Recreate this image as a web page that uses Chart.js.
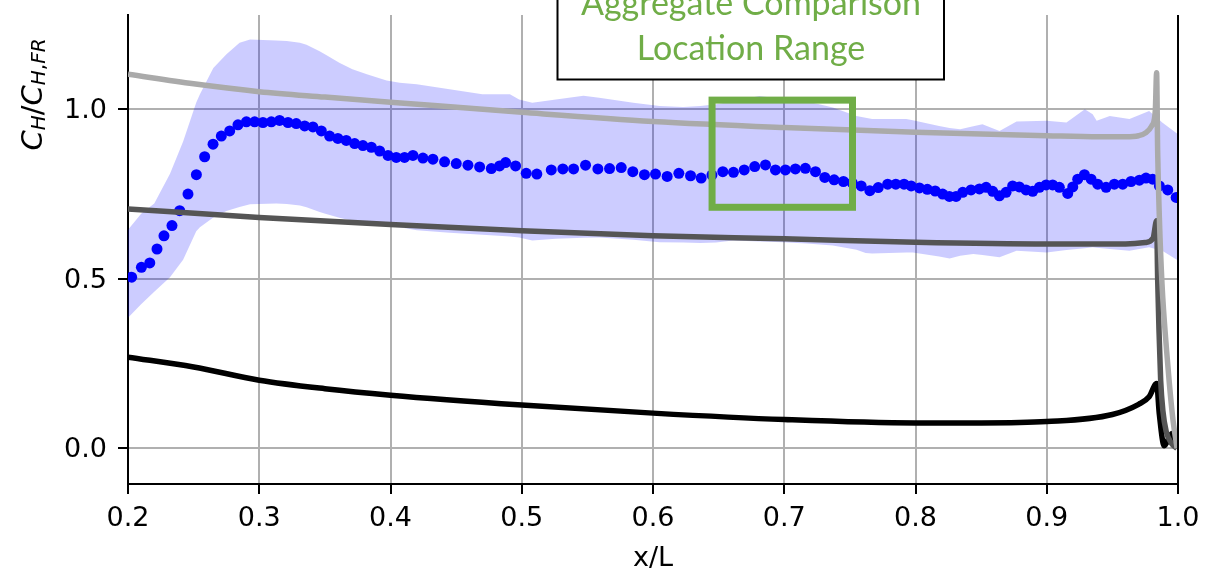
<!DOCTYPE html>
<html>
<head>
<meta charset="utf-8">
<title>Heat transfer ratio along x/L</title>
<script src="https://cdn.jsdelivr.net/npm/chart.js@4.4.1/dist/chart.umd.min.js"></script>
<style>
  html, body { margin: 0; padding: 0; background: #ffffff; }
  #wrap { width: 1205px; height: 578px; position: relative; }
</style>
</head>
<body>
<div id="wrap"><canvas id="chart" width="1205" height="578"></canvas></div>
<script>
// ---- tick labels ----
const xTicks = [0.2, 0.3, 0.4, 0.5, 0.6, 0.7, 0.8, 0.9, 1.0];
const yTicks = [0.0, 0.5, 1.0];

// ---- measured C_H / C_H,FR (blue markers) ----
const measX = [
  0.2028, 0.2102, 0.2166, 0.2221, 0.2274, 0.2335, 0.2394, 0.2457, 0.2521, 0.2584,
  0.2648, 0.2711, 0.2775, 0.2838, 0.2902, 0.2965, 0.3028, 0.3092, 0.3155, 0.3219,
  0.3282, 0.3346, 0.3409, 0.3473, 0.3536, 0.3599, 0.3663, 0.3727, 0.3790, 0.3854,
  0.3917, 0.3981, 0.4044, 0.4107, 0.4171, 0.4247, 0.4323, 0.4412, 0.4501, 0.4590,
  0.4679, 0.4768, 0.4831, 0.4877, 0.4953, 0.5034, 0.5115, 0.5225, 0.5313, 0.5395,
  0.5486, 0.5580, 0.5669, 0.5758, 0.5846, 0.5935, 0.6019, 0.6108, 0.6197, 0.6286,
  0.6367, 0.6449, 0.6532, 0.6613, 0.6695, 0.6775, 0.6857, 0.6933, 0.7009, 0.7085,
  0.7161, 0.7238, 0.7309, 0.7380, 0.7451, 0.7518, 0.7586, 0.7652, 0.7716, 0.7788,
  0.7850, 0.7913, 0.7967, 0.8030, 0.8090, 0.8150, 0.8207, 0.8258, 0.8309, 0.8360,
  0.8423, 0.8487, 0.8538, 0.8588, 0.8639, 0.8690, 0.8740, 0.8791, 0.8842, 0.8893,
  0.8944, 0.8995, 0.9045, 0.9096, 0.9160, 0.9198, 0.9236, 0.9287, 0.9338, 0.9388,
  0.9452, 0.9515, 0.9579, 0.9642, 0.9706, 0.9756, 0.9807, 0.9858, 0.9922, 0.9986
];
const measY = [
  0.505, 0.534, 0.547, 0.588, 0.627, 0.657, 0.701, 0.750, 0.807, 0.860,
  0.897, 0.921, 0.936, 0.954, 0.963, 0.963, 0.961, 0.963, 0.967, 0.961,
  0.958, 0.951, 0.948, 0.936, 0.921, 0.914, 0.908, 0.899, 0.893, 0.888,
  0.877, 0.864, 0.858, 0.858, 0.864, 0.856, 0.853, 0.845, 0.840, 0.835,
  0.830, 0.825, 0.833, 0.843, 0.833, 0.811, 0.809, 0.821, 0.824, 0.824,
  0.835, 0.824, 0.825, 0.828, 0.816, 0.807, 0.809, 0.802, 0.811, 0.804,
  0.797, 0.806, 0.816, 0.814, 0.821, 0.831, 0.836, 0.821, 0.821, 0.824,
  0.826, 0.816, 0.799, 0.792, 0.787, 0.783, 0.774, 0.760, 0.769, 0.779,
  0.779, 0.779, 0.774, 0.768, 0.764, 0.759, 0.750, 0.743, 0.743, 0.755,
  0.762, 0.765, 0.770, 0.758, 0.745, 0.755, 0.774, 0.771, 0.762, 0.758,
  0.770, 0.777, 0.777, 0.770, 0.752, 0.771, 0.794, 0.807, 0.794, 0.779,
  0.770, 0.779, 0.779, 0.787, 0.791, 0.797, 0.794, 0.774, 0.762, 0.740
];

// ---- uncertainty band (shaded) ----
const bandX = [
  0.200, 0.210, 0.220, 0.232, 0.242, 0.252, 0.2548, 0.265, 0.275, 0.285,
  0.293, 0.313, 0.321, 0.331, 0.336, 0.346, 0.351, 0.361, 0.371, 0.382,
  0.397, 0.407, 0.420, 0.445, 0.470, 0.491, 0.498, 0.508, 0.526, 0.547,
  0.559, 0.585, 0.605, 0.623, 0.636, 0.648, 0.661, 0.681, 0.699, 0.717,
  0.737, 0.755, 0.762, 0.767, 0.793, 0.798, 0.818, 0.826, 0.834, 0.844,
  0.851, 0.864, 0.877, 0.900, 0.915, 0.929, 0.935, 0.938, 0.948, 0.963,
  0.978, 0.988, 1.000
];
const bandHi = [
  0.645, 0.692, 0.722, 0.810, 0.905, 1.020, 1.044, 1.122, 1.162, 1.196,
  1.206, 1.203, 1.201, 1.196, 1.190, 1.171, 1.160, 1.137, 1.118, 1.103,
  1.085, 1.078, 1.074, 1.059, 1.044, 1.044, 1.029, 1.019, 1.029, 1.040,
  1.034, 1.019, 1.010, 1.007, 1.010, 1.015, 1.024, 1.039, 1.030, 1.024,
  1.005, 0.980, 0.975, 0.971, 0.971, 0.968, 0.951, 0.945, 0.941, 0.950,
  0.956, 0.936, 0.964, 0.966, 0.961, 1.000, 0.985, 0.966, 0.980, 0.971,
  0.995, 0.961, 0.926
];
const bandLo = [
  0.385, 0.425, 0.462, 0.505, 0.556, 0.640, 0.652, 0.681, 0.700, 0.712,
  0.720, 0.722, 0.721, 0.716, 0.711, 0.697, 0.691, 0.680, 0.671, 0.664,
  0.654, 0.652, 0.643, 0.636, 0.630, 0.625, 0.622, 0.613, 0.618, 0.621,
  0.622, 0.615, 0.608, 0.607, 0.606, 0.607, 0.613, 0.610, 0.608, 0.604,
  0.598, 0.586, 0.576, 0.575, 0.578, 0.578, 0.566, 0.560, 0.568, 0.573,
  0.570, 0.564, 0.583, 0.578, 0.585, 0.590, 0.593, 0.592, 0.588, 0.583,
  0.593, 0.583, 0.554
];

// ---- model curves ----
const lightX = [0.20, 0.25, 0.30, 0.35, 0.40, 0.50, 0.60, 0.70, 0.80, 0.90, 0.94, 0.96,
                0.970, 0.9756, 0.980, 0.9827, 0.9837, 0.9845, 0.9858, 0.9878, 0.9913,
                0.9934, 0.9959, 0.9993];
const lightY = [1.103, 1.075, 1.052, 1.036, 1.021, 0.991, 0.964, 0.946, 0.932, 0.922, 0.919, 0.919,
                0.922, 0.931, 0.951, 0.995, 1.108, 0.877, 0.681, 0.486, 0.289,
                0.192, 0.093, 0.000];

const darkX = [0.20, 0.30, 0.40, 0.50, 0.60, 0.70, 0.80, 0.90, 0.96, 0.975, 0.981,
               0.9837, 0.9845, 0.9855, 0.9868, 0.9885, 0.9910, 0.9950, 0.9993];
const darkY = [0.706, 0.681, 0.660, 0.642, 0.627, 0.618, 0.608, 0.603, 0.603, 0.607, 0.620,
               0.671, 0.500, 0.350, 0.200, 0.110, 0.050, 0.015, 0.000];

const blackX = [0.20, 0.25, 0.30, 0.35, 0.40, 0.50, 0.60, 0.70, 0.80, 0.85, 0.90, 0.95,
                0.97, 0.978, 0.9837, 0.9858, 0.9895, 0.9954, 0.9993];
const blackY = [0.269, 0.240, 0.201, 0.176, 0.157, 0.128, 0.104, 0.085, 0.075, 0.075, 0.079, 0.100,
                0.130, 0.152, 0.191, 0.100, 0.008, 0.044, 0.000];

// ---- highlighted comparison range ----
const rangeX = [0.645, 0.752];
const rangeY = [0.711, 1.027];
const noteLines = ['Aggregate Comparison', 'Location Range'];

const GREEN = '#70AD47';
const TICK_FONT = { family: 'DejaVu Sans', size: 27 };
const pts = (xs, ys) => xs.map((x, i) => ({ x: x, y: ys[i] }));

// right-hand frame line
const rightSpine = {
  id: 'rightSpine',
  afterDraw(chart) {
    const { ctx, chartArea: a } = chart;
    ctx.save();
    ctx.strokeStyle = '#000';
    ctx.lineWidth = 2;
    ctx.beginPath();
    ctx.moveTo(a.right, a.top);
    ctx.lineTo(a.right, a.bottom + 1);
    ctx.stroke();
    ctx.restore();
  }
};

// green rectangle marking the comparison range
const rangeBox = {
  id: 'rangeBox',
  afterDatasetsDraw(chart) {
    const { ctx, scales: { x, y } } = chart;
    const x0 = x.getPixelForValue(rangeX[0]), x1 = x.getPixelForValue(rangeX[1]);
    const y0 = y.getPixelForValue(rangeY[1]), y1 = y.getPixelForValue(rangeY[0]);
    ctx.save();
    ctx.strokeStyle = GREEN;
    ctx.lineWidth = 7;
    ctx.lineJoin = 'miter';
    ctx.strokeRect(x0, y0, x1 - x0, y1 - y0);
    ctx.restore();
  }
};

// text box callout and the y-axis label with subscripts
const callout = {
  id: 'callout',
  afterDraw(chart) {
    const ctx = chart.ctx;
    ctx.save();
    ctx.fillStyle = '#fff';
    ctx.fillRect(557.5, -10, 386.5, 90);
    ctx.strokeStyle = '#000';
    ctx.lineWidth = 2;
    ctx.strokeRect(557.5, -10, 386.5, 89.5);
    ctx.fillStyle = GREEN;
    ctx.font = '34px Lato';
    ctx.textAlign = 'center';
    ctx.textBaseline = 'alphabetic';
    ctx.fillText(noteLines[0], 751, 15);
    ctx.fillText(noteLines[1], 751, 59.5);
    ctx.restore();

    // C_H / C_{H,FR}
    const parts = [
      { t: 'C',  f: 'italic 29px "DejaVu Sans"', dy: 0 },
      { t: 'H',  f: 'italic 20px "DejaVu Sans"', dy: 3 },
      { t: '/',  f: '29px "DejaVu Sans"',        dy: 0 },
      { t: 'C',  f: 'italic 29px "DejaVu Sans"', dy: 0 },
      { t: 'H',  f: 'italic 20px "DejaVu Sans"', dy: 3 },
      { t: ',',  f: '20px "DejaVu Sans"',        dy: 3 },
      { t: 'FR', f: 'italic 20px "DejaVu Sans"', dy: 3 }
    ];
    ctx.save();
    let total = 0;
    parts.forEach(p => { ctx.font = p.f; p.w = ctx.measureText(p.t).width; total += p.w; });
    ctx.translate(41.5, 94.5);
    ctx.rotate(-Math.PI / 2);
    ctx.fillStyle = '#000';
    ctx.textAlign = 'left';
    ctx.textBaseline = 'alphabetic';
    let px = -total / 2;
    parts.forEach(p => { ctx.font = p.f; ctx.fillText(p.t, px, p.dy); px += p.w; });
    ctx.restore();
  }
};

const gridOpts = { color: '#b0b0b0', lineWidth: 2, tickColor: '#000', tickLength: 10, tickWidth: 2 };

new Chart(document.getElementById('chart'), {
  type: 'line',
  data: {
    datasets: [
      { label: 'upper', data: pts(lightX, lightY), borderColor: '#aaaaaa', borderWidth: 5.5,
        pointRadius: 0, cubicInterpolationMode: 'monotone', borderJoinStyle: 'round', fill: false },
      { label: 'middle', data: pts(darkX, darkY), borderColor: '#555555', borderWidth: 5.5,
        pointRadius: 0, cubicInterpolationMode: 'monotone', borderJoinStyle: 'round', fill: false },
      { label: 'lower', data: pts(blackX, blackY), borderColor: '#000000', borderWidth: 5.5,
        pointRadius: 0, cubicInterpolationMode: 'monotone', borderJoinStyle: 'round', fill: false },
      { label: 'measured', data: pts(measX, measY), showLine: false, pointRadius: 5.5,
        pointBackgroundColor: '#0000ff', pointBorderWidth: 0, borderColor: '#0000ff', fill: false },
      { label: 'band max', data: pts(bandX, bandHi), borderWidth: 0, pointRadius: 0,
        borderColor: 'rgba(0,0,0,0)', backgroundColor: 'rgba(0,0,255,0.2)', fill: '+1', tension: 0 },
      { label: 'band min', data: pts(bandX, bandLo), borderWidth: 0, pointRadius: 0,
        borderColor: 'rgba(0,0,0,0)', fill: false, tension: 0 }
    ]
  },
  options: {
    responsive: false,
    animation: false,
    devicePixelRatio: 1,
    events: [],
    layout: { padding: { top: 15, right: 27, left: 0, bottom: 0 } },
    plugins: { legend: { display: false }, tooltip: { enabled: false } },
    scales: {
      x: {
        type: 'linear', min: 0.2, max: 1.0,
        afterBuildTicks: s => { s.ticks = xTicks.map(v => ({ value: v })); },
        afterFit: s => { s.height = 94; s.paddingLeft = 0; s.paddingRight = 0; },
        ticks: { callback: v => v.toFixed(1), font: TICK_FONT, color: '#000', padding: 9,
                 maxRotation: 0, autoSkip: false },
        grid: gridOpts,
        border: { color: '#000', width: 2 },
        title: { display: true, text: 'x/L', font: TICK_FONT, color: '#000',
                 padding: { top: 0, bottom: 3 } }
      },
      y: {
        type: 'linear', min: -0.105, max: 1.278,
        afterBuildTicks: s => { s.ticks = yTicks.map(v => ({ value: v })); },
        afterFit: s => { s.width = 128; s.paddingTop = 0; s.paddingBottom = 0; },
        ticks: { callback: v => v.toFixed(1), font: TICK_FONT, color: '#000', padding: 11,
                 labelOffset: 2, autoSkip: false },
        grid: gridOpts,
        border: { color: '#000', width: 2 }
      }
    }
  },
  plugins: [rightSpine, rangeBox, callout]
});
</script>
</body>
</html>
